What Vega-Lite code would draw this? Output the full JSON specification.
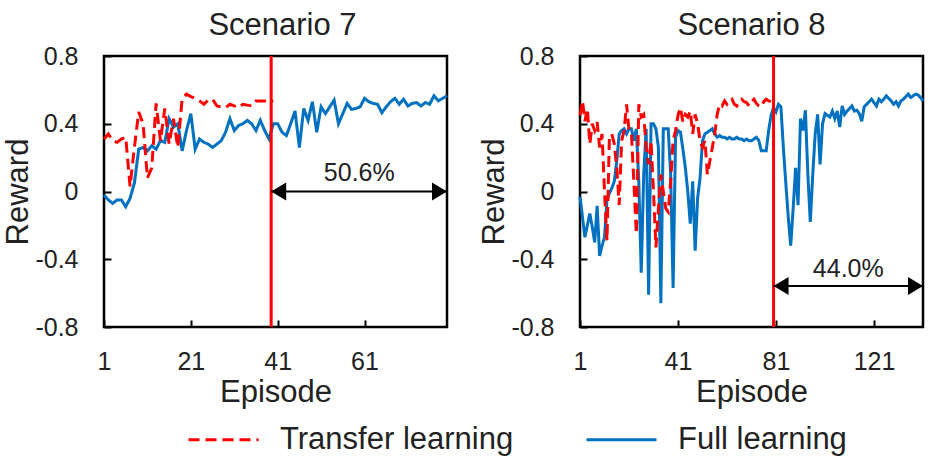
{
"$schema": "https://vega.github.io/schema/vega-lite/v6.json",
"autosize": {"type": "pad"},
"padding": {"left": 0, "top": 8, "right": 11, "bottom": 4},
"background": "white",
"config": {
  "font": "Liberation Sans",
  "view": {"stroke": "black", "strokeWidth": 2.5},
  "axis": {"grid": false, "domain": false, "tickColor": "black", "tickSize": -7, "tickWidth": 2, "labelFontSize": 25, "labelColor": "#222", "labelFlush": false, "titleFontSize": 31, "titleFontWeight": "normal", "titleColor": "#222", "labelFont": "Liberation Sans", "titleFont": "Liberation Sans"},
  "title": {"fontSize": 31, "fontWeight": "normal", "color": "#222", "baseline": "alphabetic", "offset": 2, "font": "Liberation Sans"},
  "legend": {"orient": "none", "legendX": 83, "legendY": 347, "direction": "horizontal", "symbolType": "stroke", "symbolSize": 4900, "symbolStrokeWidth": 3, "labelFontSize": 31, "labelColor": "#222", "labelLimit": 400, "labelOffset": 20, "columnPadding": 66, "padding": 0, "title": null, "labelFont": "Liberation Sans"}
},
"datasets": {
  "s7": [
    {"ep":1,"v":-0.02,"series":"Full learning"},{"ep":2,"v":-0.05,"series":"Full learning"},{"ep":3,"v":-0.07,"series":"Full learning"},{"ep":4,"v":-0.05,"series":"Full learning"},{"ep":5,"v":-0.05,"series":"Full learning"},{"ep":6,"v":-0.09,"series":"Full learning"},{"ep":7,"v":-0.04,"series":"Full learning"},{"ep":8,"v":0.05,"series":"Full learning"},{"ep":9,"v":0.25,"series":"Full learning"},{"ep":10,"v":0.26,"series":"Full learning"},
    {"ep":11,"v":0.24,"series":"Full learning"},{"ep":12,"v":0.27,"series":"Full learning"},{"ep":13,"v":0.25,"series":"Full learning"},{"ep":14,"v":0.30,"series":"Full learning"},{"ep":15,"v":0.29,"series":"Full learning"},{"ep":16,"v":0.43,"series":"Full learning"},{"ep":17,"v":0.38,"series":"Full learning"},{"ep":18,"v":0.40,"series":"Full learning"},{"ep":19,"v":0.24,"series":"Full learning"},{"ep":20,"v":0.36,"series":"Full learning"},
    {"ep":21,"v":0.46,"series":"Full learning"},{"ep":22,"v":0.25,"series":"Full learning"},{"ep":23,"v":0.31,"series":"Full learning"},{"ep":24,"v":0.29,"series":"Full learning"},{"ep":25,"v":0.28,"series":"Full learning"},{"ep":26,"v":0.26,"series":"Full learning"},{"ep":27,"v":0.28,"series":"Full learning"},{"ep":28,"v":0.30,"series":"Full learning"},{"ep":29,"v":0.35,"series":"Full learning"},{"ep":30,"v":0.43,"series":"Full learning"},
    {"ep":31,"v":0.36,"series":"Full learning"},{"ep":32,"v":0.39,"series":"Full learning"},{"ep":33,"v":0.40,"series":"Full learning"},{"ep":34,"v":0.42,"series":"Full learning"},{"ep":35,"v":0.40,"series":"Full learning"},{"ep":36,"v":0.36,"series":"Full learning"},{"ep":37,"v":0.42,"series":"Full learning"},{"ep":38,"v":0.36,"series":"Full learning"},{"ep":39,"v":0.31,"series":"Full learning"},{"ep":40,"v":0.40,"series":"Full learning"},
    {"ep":41,"v":0.40,"series":"Full learning"},{"ep":42,"v":0.35,"series":"Full learning"},{"ep":43,"v":0.33,"series":"Full learning"},{"ep":44,"v":0.40,"series":"Full learning"},{"ep":45,"v":0.475,"series":"Full learning"},{"ep":46,"v":0.26,"series":"Full learning"},{"ep":47,"v":0.49,"series":"Full learning"},{"ep":48,"v":0.42,"series":"Full learning"},{"ep":49,"v":0.53,"series":"Full learning"},{"ep":50,"v":0.35,"series":"Full learning"},
    {"ep":51,"v":0.50,"series":"Full learning"},{"ep":52,"v":0.46,"series":"Full learning"},{"ep":53,"v":0.50,"series":"Full learning"},{"ep":54,"v":0.54,"series":"Full learning"},{"ep":55,"v":0.40,"series":"Full learning"},{"ep":56,"v":0.46,"series":"Full learning"},{"ep":57,"v":0.52,"series":"Full learning"},{"ep":58,"v":0.485,"series":"Full learning"},{"ep":59,"v":0.49,"series":"Full learning"},{"ep":60,"v":0.50,"series":"Full learning"},
    {"ep":61,"v":0.55,"series":"Full learning"},{"ep":62,"v":0.53,"series":"Full learning"},{"ep":63,"v":0.52,"series":"Full learning"},{"ep":64,"v":0.515,"series":"Full learning"},{"ep":65,"v":0.465,"series":"Full learning"},{"ep":66,"v":0.50,"series":"Full learning"},{"ep":67,"v":0.53,"series":"Full learning"},{"ep":68,"v":0.55,"series":"Full learning"},{"ep":69,"v":0.515,"series":"Full learning"},{"ep":70,"v":0.545,"series":"Full learning"},
    {"ep":71,"v":0.505,"series":"Full learning"},{"ep":72,"v":0.52,"series":"Full learning"},{"ep":73,"v":0.525,"series":"Full learning"},{"ep":74,"v":0.505,"series":"Full learning"},{"ep":75,"v":0.525,"series":"Full learning"},{"ep":76,"v":0.515,"series":"Full learning"},{"ep":77,"v":0.565,"series":"Full learning"},{"ep":78,"v":0.535,"series":"Full learning"},{"ep":79,"v":0.55,"series":"Full learning"},{"ep":80,"v":0.565,"series":"Full learning"},
    {"ep":1,"v":0.31,"series":"Transfer learning"},{"ep":2,"v":0.34,"series":"Transfer learning"},{"ep":3,"v":0.30,"series":"Transfer learning"},{"ep":4,"v":0.29,"series":"Transfer learning"},{"ep":5,"v":0.31,"series":"Transfer learning"},{"ep":6,"v":0.32,"series":"Transfer learning"},{"ep":7,"v":0.03,"series":"Transfer learning"},{"ep":8,"v":0.26,"series":"Transfer learning"},{"ep":9,"v":0.47,"series":"Transfer learning"},{"ep":10,"v":0.40,"series":"Transfer learning"},
    {"ep":11,"v":0.08,"series":"Transfer learning"},{"ep":12,"v":0.14,"series":"Transfer learning"},{"ep":13,"v":0.52,"series":"Transfer learning"},{"ep":14,"v":0.30,"series":"Transfer learning"},{"ep":15,"v":0.49,"series":"Transfer learning"},{"ep":16,"v":0.28,"series":"Transfer learning"},{"ep":17,"v":0.43,"series":"Transfer learning"},{"ep":18,"v":0.26,"series":"Transfer learning"},{"ep":19,"v":0.55,"series":"Transfer learning"},{"ep":20,"v":0.575,"series":"Transfer learning"},
    {"ep":21,"v":0.56,"series":"Transfer learning"},{"ep":22,"v":0.55,"series":"Transfer learning"},{"ep":23,"v":0.535,"series":"Transfer learning"},{"ep":24,"v":0.515,"series":"Transfer learning"},{"ep":25,"v":0.54,"series":"Transfer learning"},{"ep":26,"v":0.545,"series":"Transfer learning"},{"ep":27,"v":0.505,"series":"Transfer learning"},{"ep":28,"v":0.50,"series":"Transfer learning"},{"ep":29,"v":0.495,"series":"Transfer learning"},{"ep":30,"v":0.515,"series":"Transfer learning"},
    {"ep":31,"v":0.505,"series":"Transfer learning"},{"ep":32,"v":0.495,"series":"Transfer learning"},{"ep":33,"v":0.515,"series":"Transfer learning"},{"ep":34,"v":0.51,"series":"Transfer learning"},{"ep":35,"v":0.505,"series":"Transfer learning"},{"ep":36,"v":0.535,"series":"Transfer learning"},{"ep":37,"v":0.535,"series":"Transfer learning"},{"ep":38,"v":0.535,"series":"Transfer learning"},{"ep":39,"v":0.535,"series":"Transfer learning"},{"ep":40,"v":0.535,"series":"Transfer learning"}
  ],
  "s8": [
    {"ep":1,"v":-0.03,"series":"Full learning"},{"ep":2,"v":-0.15,"series":"Full learning"},{"ep":3,"v":-0.27,"series":"Full learning"},{"ep":4,"v":-0.20,"series":"Full learning"},{"ep":5,"v":-0.13,"series":"Full learning"},{"ep":6,"v":-0.21,"series":"Full learning"},{"ep":7,"v":-0.30,"series":"Full learning"},{"ep":8,"v":-0.085,"series":"Full learning"},{"ep":9,"v":-0.38,"series":"Full learning"},{"ep":10,"v":-0.32,"series":"Full learning"},
    {"ep":11,"v":-0.27,"series":"Full learning"},{"ep":12,"v":-0.05,"series":"Full learning"},{"ep":13,"v":-0.01,"series":"Full learning"},{"ep":14,"v":0.02,"series":"Full learning"},{"ep":15,"v":0.06,"series":"Full learning"},{"ep":16,"v":0.18,"series":"Full learning"},{"ep":17,"v":0.34,"series":"Full learning"},{"ep":18,"v":0.36,"series":"Full learning"},{"ep":19,"v":0.37,"series":"Full learning"},{"ep":20,"v":0.34,"series":"Full learning"},
    {"ep":21,"v":0.37,"series":"Full learning"},{"ep":22,"v":0.37,"series":"Full learning"},{"ep":23,"v":0.30,"series":"Full learning"},{"ep":24,"v":0.37,"series":"Full learning"},{"ep":25,"v":0.06,"series":"Full learning"},{"ep":26,"v":-0.48,"series":"Full learning"},{"ep":27,"v":0.10,"series":"Full learning"},{"ep":28,"v":0.37,"series":"Full learning"},{"ep":29,"v":-0.61,"series":"Full learning"},{"ep":30,"v":0.40,"series":"Full learning"},
    {"ep":31,"v":0.40,"series":"Full learning"},{"ep":32,"v":0.37,"series":"Full learning"},{"ep":33,"v":0.26,"series":"Full learning"},{"ep":34,"v":-0.66,"series":"Full learning"},{"ep":35,"v":0.37,"series":"Full learning"},{"ep":36,"v":0.37,"series":"Full learning"},{"ep":37,"v":0.37,"series":"Full learning"},{"ep":38,"v":0.10,"series":"Full learning"},{"ep":39,"v":-0.57,"series":"Full learning"},{"ep":40,"v":0.32,"series":"Full learning"},
    {"ep":41,"v":0.36,"series":"Full learning"},{"ep":42,"v":0.35,"series":"Full learning"},{"ep":43,"v":0.25,"series":"Full learning"},{"ep":44,"v":0.14,"series":"Full learning"},{"ep":45,"v":0.00,"series":"Full learning"},{"ep":46,"v":-0.19,"series":"Full learning"},{"ep":47,"v":0.06,"series":"Full learning"},{"ep":48,"v":-0.35,"series":"Full learning"},{"ep":49,"v":-0.04,"series":"Full learning"},{"ep":50,"v":0.08,"series":"Full learning"},
    {"ep":51,"v":0.30,"series":"Full learning"},{"ep":52,"v":0.34,"series":"Full learning"},{"ep":53,"v":0.35,"series":"Full learning"},{"ep":54,"v":0.36,"series":"Full learning"},{"ep":55,"v":0.37,"series":"Full learning"},{"ep":56,"v":0.34,"series":"Full learning"},{"ep":57,"v":0.32,"series":"Full learning"},{"ep":58,"v":0.33,"series":"Full learning"},{"ep":59,"v":0.32,"series":"Full learning"},{"ep":60,"v":0.32,"series":"Full learning"},
    {"ep":61,"v":0.31,"series":"Full learning"},{"ep":62,"v":0.32,"series":"Full learning"},{"ep":63,"v":0.31,"series":"Full learning"},{"ep":64,"v":0.31,"series":"Full learning"},{"ep":65,"v":0.32,"series":"Full learning"},{"ep":66,"v":0.31,"series":"Full learning"},{"ep":67,"v":0.31,"series":"Full learning"},{"ep":68,"v":0.30,"series":"Full learning"},{"ep":69,"v":0.31,"series":"Full learning"},{"ep":70,"v":0.30,"series":"Full learning"},
    {"ep":71,"v":0.30,"series":"Full learning"},{"ep":72,"v":0.31,"series":"Full learning"},{"ep":73,"v":0.32,"series":"Full learning"},{"ep":74,"v":0.30,"series":"Full learning"},{"ep":75,"v":0.24,"series":"Full learning"},{"ep":76,"v":0.24,"series":"Full learning"},{"ep":77,"v":0.24,"series":"Full learning"},{"ep":78,"v":0.36,"series":"Full learning"},{"ep":79,"v":0.45,"series":"Full learning"},{"ep":80,"v":0.495,"series":"Full learning"},
    {"ep":81,"v":0.47,"series":"Full learning"},{"ep":82,"v":0.515,"series":"Full learning"},{"ep":83,"v":0.50,"series":"Full learning"},{"ep":84,"v":0.26,"series":"Full learning"},{"ep":85,"v":0.05,"series":"Full learning"},{"ep":86,"v":-0.15,"series":"Full learning"},{"ep":87,"v":-0.32,"series":"Full learning"},{"ep":88,"v":-0.10,"series":"Full learning"},{"ep":89,"v":0.14,"series":"Full learning"},{"ep":90,"v":-0.08,"series":"Full learning"},
    {"ep":91,"v":0.43,"series":"Full learning"},{"ep":92,"v":0.36,"series":"Full learning"},{"ep":93,"v":0.48,"series":"Full learning"},{"ep":94,"v":0.10,"series":"Full learning"},{"ep":95,"v":-0.18,"series":"Full learning"},{"ep":96,"v":0.10,"series":"Full learning"},{"ep":97,"v":0.34,"series":"Full learning"},{"ep":98,"v":0.455,"series":"Full learning"},{"ep":99,"v":0.16,"series":"Full learning"},{"ep":100,"v":0.40,"series":"Full learning"},
    {"ep":101,"v":0.46,"series":"Full learning"},{"ep":102,"v":0.45,"series":"Full learning"},{"ep":103,"v":0.44,"series":"Full learning"},{"ep":104,"v":0.475,"series":"Full learning"},{"ep":105,"v":0.43,"series":"Full learning"},{"ep":106,"v":0.475,"series":"Full learning"},{"ep":107,"v":0.38,"series":"Full learning"},{"ep":108,"v":0.505,"series":"Full learning"},{"ep":109,"v":0.455,"series":"Full learning"},{"ep":110,"v":0.475,"series":"Full learning"},
    {"ep":111,"v":0.49,"series":"Full learning"},{"ep":112,"v":0.505,"series":"Full learning"},{"ep":113,"v":0.475,"series":"Full learning"},{"ep":114,"v":0.48,"series":"Full learning"},{"ep":115,"v":0.46,"series":"Full learning"},{"ep":116,"v":0.415,"series":"Full learning"},{"ep":117,"v":0.50,"series":"Full learning"},{"ep":118,"v":0.515,"series":"Full learning"},{"ep":119,"v":0.53,"series":"Full learning"},{"ep":120,"v":0.545,"series":"Full learning"},
    {"ep":121,"v":0.525,"series":"Full learning"},{"ep":122,"v":0.505,"series":"Full learning"},{"ep":123,"v":0.545,"series":"Full learning"},{"ep":124,"v":0.53,"series":"Full learning"},{"ep":125,"v":0.545,"series":"Full learning"},{"ep":126,"v":0.565,"series":"Full learning"},{"ep":127,"v":0.55,"series":"Full learning"},{"ep":128,"v":0.535,"series":"Full learning"},{"ep":129,"v":0.515,"series":"Full learning"},{"ep":130,"v":0.53,"series":"Full learning"},
    {"ep":131,"v":0.505,"series":"Full learning"},{"ep":132,"v":0.535,"series":"Full learning"},{"ep":133,"v":0.545,"series":"Full learning"},{"ep":134,"v":0.56,"series":"Full learning"},{"ep":135,"v":0.575,"series":"Full learning"},{"ep":136,"v":0.555,"series":"Full learning"},{"ep":137,"v":0.565,"series":"Full learning"},{"ep":138,"v":0.575,"series":"Full learning"},{"ep":139,"v":0.57,"series":"Full learning"},{"ep":140,"v":0.555,"series":"Full learning"},{"ep":141,"v":0.535,"series":"Full learning"},
    {"ep":1,"v":0.45,"series":"Transfer learning"},{"ep":2,"v":0.535,"series":"Transfer learning"},{"ep":3,"v":0.415,"series":"Transfer learning"},{"ep":4,"v":0.49,"series":"Transfer learning"},{"ep":5,"v":0.28,"series":"Transfer learning"},{"ep":6,"v":0.40,"series":"Transfer learning"},{"ep":7,"v":0.36,"series":"Transfer learning"},{"ep":8,"v":0.41,"series":"Transfer learning"},{"ep":9,"v":0.26,"series":"Transfer learning"},{"ep":10,"v":0.34,"series":"Transfer learning"},
    {"ep":11,"v":0.0,"series":"Transfer learning"},{"ep":12,"v":-0.29,"series":"Transfer learning"},{"ep":13,"v":0.32,"series":"Transfer learning"},{"ep":14,"v":0.34,"series":"Transfer learning"},{"ep":15,"v":0.28,"series":"Transfer learning"},{"ep":16,"v":0.14,"series":"Transfer learning"},{"ep":17,"v":-0.08,"series":"Transfer learning"},{"ep":18,"v":0.30,"series":"Transfer learning"},{"ep":19,"v":0.36,"series":"Transfer learning"},{"ep":20,"v":0.515,"series":"Transfer learning"},
    {"ep":21,"v":0.36,"series":"Transfer learning"},{"ep":22,"v":0.34,"series":"Transfer learning"},{"ep":23,"v":0.05,"series":"Transfer learning"},{"ep":24,"v":-0.25,"series":"Transfer learning"},{"ep":25,"v":0.515,"series":"Transfer learning"},{"ep":26,"v":0.44,"series":"Transfer learning"},{"ep":27,"v":0.455,"series":"Transfer learning"},{"ep":28,"v":0.26,"series":"Transfer learning"},{"ep":29,"v":0.16,"series":"Transfer learning"},{"ep":30,"v":0.30,"series":"Transfer learning"},
    {"ep":31,"v":0.0,"series":"Transfer learning"},{"ep":32,"v":-0.33,"series":"Transfer learning"},{"ep":33,"v":-0.10,"series":"Transfer learning"},{"ep":34,"v":0.10,"series":"Transfer learning"},{"ep":35,"v":0.0,"series":"Transfer learning"},{"ep":36,"v":-0.10,"series":"Transfer learning"},{"ep":37,"v":-0.12,"series":"Transfer learning"},{"ep":38,"v":0.06,"series":"Transfer learning"},{"ep":39,"v":0.30,"series":"Transfer learning"},{"ep":40,"v":0.36,"series":"Transfer learning"},
    {"ep":41,"v":0.45,"series":"Transfer learning"},{"ep":42,"v":0.495,"series":"Transfer learning"},{"ep":43,"v":0.41,"series":"Transfer learning"},{"ep":44,"v":0.455,"series":"Transfer learning"},{"ep":45,"v":0.44,"series":"Transfer learning"},{"ep":46,"v":0.475,"series":"Transfer learning"},{"ep":47,"v":0.34,"series":"Transfer learning"},{"ep":48,"v":0.455,"series":"Transfer learning"},{"ep":49,"v":0.40,"series":"Transfer learning"},{"ep":50,"v":0.30,"series":"Transfer learning"},
    {"ep":51,"v":0.26,"series":"Transfer learning"},{"ep":52,"v":0.30,"series":"Transfer learning"},{"ep":53,"v":0.10,"series":"Transfer learning"},{"ep":54,"v":0.18,"series":"Transfer learning"},{"ep":55,"v":0.26,"series":"Transfer learning"},{"ep":56,"v":0.34,"series":"Transfer learning"},{"ep":57,"v":0.455,"series":"Transfer learning"},{"ep":58,"v":0.515,"series":"Transfer learning"},{"ep":59,"v":0.505,"series":"Transfer learning"},{"ep":60,"v":0.535,"series":"Transfer learning"},
    {"ep":61,"v":0.515,"series":"Transfer learning"},{"ep":62,"v":0.535,"series":"Transfer learning"},{"ep":63,"v":0.545,"series":"Transfer learning"},{"ep":64,"v":0.515,"series":"Transfer learning"},{"ep":65,"v":0.505,"series":"Transfer learning"},{"ep":66,"v":0.535,"series":"Transfer learning"},{"ep":67,"v":0.545,"series":"Transfer learning"},{"ep":68,"v":0.53,"series":"Transfer learning"},{"ep":69,"v":0.525,"series":"Transfer learning"},{"ep":70,"v":0.505,"series":"Transfer learning"},
    {"ep":71,"v":0.53,"series":"Transfer learning"},{"ep":72,"v":0.545,"series":"Transfer learning"},{"ep":73,"v":0.52,"series":"Transfer learning"},{"ep":74,"v":0.505,"series":"Transfer learning"},{"ep":75,"v":0.50,"series":"Transfer learning"},{"ep":76,"v":0.53,"series":"Transfer learning"},{"ep":77,"v":0.545,"series":"Transfer learning"},{"ep":78,"v":0.535,"series":"Transfer learning"},{"ep":79,"v":0.53,"series":"Transfer learning"},{"ep":80,"v":0.545,"series":"Transfer learning"}
  ]
},
"spacing": 133,
"bounds": "flush",
"hconcat": [
  {
    "width": 343, "height": 271,
    "title": {"text": "Scenario 7", "dx": 7},
    "layer": [
      {
        "data": {"name": "s7"},
        "mark": {"type": "line", "strokeWidth": 3},
        "encoding": {
          "x": {"field": "ep", "type": "quantitative", "scale": {"domain": [1, 80], "nice": false, "zero": false},
                "axis": {"values": [1, 21, 41, 61], "title": "Episode", "labelPadding": 41, "labelBaseline": "middle", "titleX": 171.5, "titleY": 74, "titleBaseline": "alphabetic", "titleAlign": "center"}},
          "y": {"field": "v", "type": "quantitative", "scale": {"domain": [-0.8, 0.8], "nice": false},
                "axis": {"values": [-0.8, -0.4, 0, 0.4, 0.8], "title": "Reward", "labelPadding": 33, "labelExpr": "datum.value == 0 ? '0' : (datum.value < 0 ? '-' + format(-datum.value, '.1f') : format(datum.value, '.1f'))", "titleX": -86, "titleY": 135.5, "titleAngle": -90, "titleBaseline": "middle", "titleAlign": "center"}},
          "color": {"field": "series", "type": "nominal", "scale": {"domain": ["Transfer learning", "Full learning"], "range": ["#FF0000", "#0070C0"]}},
          "strokeDash": {"field": "series", "type": "nominal", "scale": {"domain": ["Transfer learning", "Full learning"], "range": [[11, 6], [1, 0]]}}
        }
      },
      {
        "data": {"values": [{"ep": 39.5}]},
        "mark": {"type": "rule", "color": "#FF0000", "strokeWidth": 3},
        "encoding": {"x": {"field": "ep", "type": "quantitative"}}
      },
      {
        "data": {"values": [{"ep": 39.5, "ep2": 80, "v": 0}]},
        "mark": {"type": "rule", "color": "black", "strokeWidth": 2},
        "encoding": {"x": {"field": "ep", "type": "quantitative"}, "x2": {"field": "ep2"}, "y": {"field": "v", "type": "quantitative"}}
      },
      {
        "data": {"values": [{"ep": 39.5, "v": 0}]},
        "mark": {"type": "point", "shape": "M0,0L2,-1.2L2,1.2Z", "size": 225, "filled": true, "color": "black", "opacity": 1, "strokeWidth": 0},
        "encoding": {"x": {"field": "ep", "type": "quantitative"}, "y": {"field": "v", "type": "quantitative"}}
      },
      {
        "data": {"values": [{"ep": 80, "v": 0}]},
        "mark": {"type": "point", "shape": "M0,0L-2,-1.2L-2,1.2Z", "size": 225, "filled": true, "color": "black", "opacity": 1, "strokeWidth": 0},
        "encoding": {"x": {"field": "ep", "type": "quantitative"}, "y": {"field": "v", "type": "quantitative"}}
      },
      {
        "data": {"values": [{"ep": 59.8, "v": 0.11, "label": "50.6%"}]},
        "mark": {"type": "text", "fontSize": 25, "color": "#222", "align": "center", "baseline": "middle"},
        "encoding": {"x": {"field": "ep", "type": "quantitative"}, "y": {"field": "v", "type": "quantitative"}, "text": {"field": "label"}}
      }
    ]
  },
  {
    "width": 343, "height": 271,
    "title": {"text": "Scenario 8"},
    "layer": [
      {
        "data": {"name": "s8"},
        "mark": {"type": "line", "strokeWidth": 3},
        "encoding": {
          "x": {"field": "ep", "type": "quantitative", "scale": {"domain": [1, 141], "nice": false, "zero": false},
                "axis": {"values": [1, 41, 81, 121], "title": "Episode", "labelPadding": 41, "labelBaseline": "middle", "titleX": 171.5, "titleY": 74, "titleBaseline": "alphabetic", "titleAlign": "center"}},
          "y": {"field": "v", "type": "quantitative", "scale": {"domain": [-0.8, 0.8], "nice": false},
                "axis": {"values": [-0.8, -0.4, 0, 0.4, 0.8], "title": "Reward", "labelPadding": 33, "labelExpr": "datum.value == 0 ? '0' : (datum.value < 0 ? '-' + format(-datum.value, '.1f') : format(datum.value, '.1f'))", "titleX": -86, "titleY": 135.5, "titleAngle": -90, "titleBaseline": "middle", "titleAlign": "center"}},
          "color": {"field": "series", "type": "nominal", "scale": {"domain": ["Transfer learning", "Full learning"], "range": ["#FF0000", "#0070C0"]}},
          "strokeDash": {"field": "series", "type": "nominal", "scale": {"domain": ["Transfer learning", "Full learning"], "range": [[11, 6], [1, 0]]}}
        }
      },
      {
        "data": {"values": [{"ep": 80}]},
        "mark": {"type": "rule", "color": "#FF0000", "strokeWidth": 3},
        "encoding": {"x": {"field": "ep", "type": "quantitative"}}
      },
      {
        "data": {"values": [{"ep": 80, "ep2": 141, "v": -0.558}]},
        "mark": {"type": "rule", "color": "black", "strokeWidth": 2},
        "encoding": {"x": {"field": "ep", "type": "quantitative"}, "x2": {"field": "ep2"}, "y": {"field": "v", "type": "quantitative"}}
      },
      {
        "data": {"values": [{"ep": 80, "v": -0.558}]},
        "mark": {"type": "point", "shape": "M0,0L2,-1.2L2,1.2Z", "size": 225, "filled": true, "color": "black", "opacity": 1, "strokeWidth": 0},
        "encoding": {"x": {"field": "ep", "type": "quantitative"}, "y": {"field": "v", "type": "quantitative"}}
      },
      {
        "data": {"values": [{"ep": 141, "v": -0.558}]},
        "mark": {"type": "point", "shape": "M0,0L-2,-1.2L-2,1.2Z", "size": 225, "filled": true, "color": "black", "opacity": 1, "strokeWidth": 0},
        "encoding": {"x": {"field": "ep", "type": "quantitative"}, "y": {"field": "v", "type": "quantitative"}}
      },
      {
        "data": {"values": [{"ep": 110.5, "v": -0.457, "label": "44.0%"}]},
        "mark": {"type": "text", "fontSize": 25, "color": "#222", "align": "center", "baseline": "middle"},
        "encoding": {"x": {"field": "ep", "type": "quantitative"}, "y": {"field": "v", "type": "quantitative"}, "text": {"field": "label"}}
      }
    ]
  }
]
}
